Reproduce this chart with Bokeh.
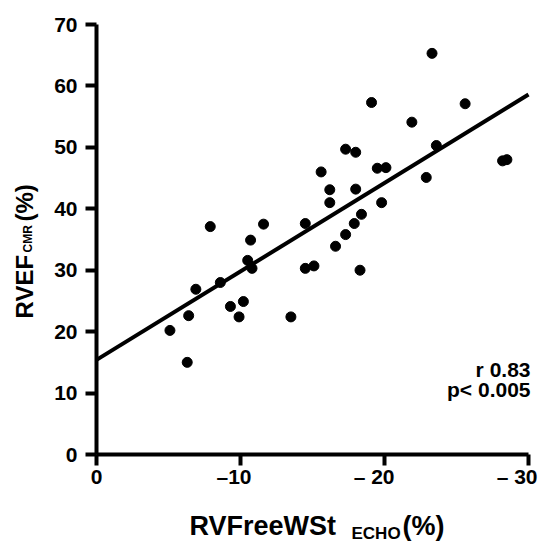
import math
from bokeh.plotting import figure
from bokeh.models import Range1d, FixedTicker, Label, ColumnDataSource, LinearAxis
from bokeh.core.properties import value
from bokeh.embed import file_html
from bokeh.resources import INLINE

# ---- data ----
strain = [-23.3, -19.1, -25.6, -21.9, -17.3, -18.0, -23.6, -28.2, -28.5, -15.6,
          -19.5, -20.1, -22.9, -16.2, -18.0, -16.2, -19.8, -18.4, -7.9, -11.6,
          -14.5, -17.9, -17.3, -16.6, -10.7, -10.5, -10.8, -14.5, -15.1, -18.3,
          -6.9, -8.6, -9.3, -10.2, -9.9, -13.5, -6.4, -5.1, -6.3]
rvef = [65.3, 57.3, 57.1, 54.1, 49.7, 49.2, 50.3, 47.8, 48.0, 46.0,
        46.6, 46.7, 45.1, 43.1, 43.2, 41.0, 41.0, 39.1, 37.1, 37.5,
        37.6, 37.6, 35.8, 33.9, 34.9, 31.6, 30.3, 30.3, 30.7, 30.0,
        26.9, 28.0, 24.1, 24.9, 22.4, 22.4, 22.6, 20.2, 15.0]
fit_intercept = 15.4
fit_slope = -1.44
x_ticks = [0, -10, -20, -30]
x_tick_labels = ["0", "\u201310", "\u2013 20", "\u2013 30"]
y_ticks = [0, 10, 20, 30, 40, 50, 60, 70]
x_limits = [0, -30]
y_limits = [0, 70]
stats = ["r 0.83", "p< 0.005"]

FONT = "Liberation Sans"

# layout (canvas pixels): plotting box inside a full-canvas frame
W, H = 541, 545
AX_L, AX_R = 96, 528      # x = 0 and x = -30
AX_T, AX_B = 24, 454      # y = 70 and y = 0

ux = (x_limits[1] - x_limits[0]) / (AX_R - AX_L)
uy = (y_limits[1] - y_limits[0]) / (AX_B - AX_T)
xr = Range1d(x_limits[0] - AX_L * ux, x_limits[1] + (W - AX_R) * ux)
yr = Range1d(y_limits[0] - (H - AX_B) * uy, y_limits[1] + AX_T * uy)

p = figure(width=W, height=H, min_border=0, x_range=xr, y_range=yr,
           x_axis_location=None, y_axis_location=None,
           output_backend="svg", toolbar_location=None)
p.outline_line_color = None
p.grid.visible = False
p.background_fill_color = "white"
p.border_fill_color = "white"

def dx(px):   # canvas pixel -> data x
    return xr.start + px * ux

def dy(py):   # canvas pixel -> data y
    return yr.end - py * uy

xa = LinearAxis(fixed_location=y_limits[0], bounds=(x_limits[1], x_limits[0]),
                ticker=FixedTicker(ticks=x_ticks))
ya = LinearAxis(fixed_location=x_limits[0], bounds=(y_limits[0], y_limits[1]),
                ticker=FixedTicker(ticks=y_ticks))
for ax in (xa, ya):
    ax.axis_line_width = 4
    ax.axis_line_color = "black"
    ax.major_tick_line_width = 4
    ax.major_tick_line_color = "black"
    ax.major_tick_in = 0
    ax.major_tick_out = 11
    ax.minor_tick_line_color = None
    ax.major_label_text_font = FONT
    ax.major_label_text_font_style = "bold"
    ax.major_label_text_font_size = "21px"
    ax.major_label_text_color = "black"
xa.major_label_text_alpha = 0
ya.major_label_standoff = 8
p.add_layout(xa, "below")
p.add_layout(ya, "left")

# x tick labels (digits centred on ticks, dash hanging left)
src = ColumnDataSource(dict(x=x_ticks, y=[y_limits[0]] * len(x_ticks), t=x_tick_labels,
                            dxo=[6, 11, 10, 9]))
p.text(x="x", y="y", text="t", source=src, x_offset="dxo", y_offset=22,
       text_align="right", text_baseline="alphabetic", text_font=value(FONT),
       text_font_style="bold", text_font_size="21px", text_color="black")

# regression line
p.line(x=x_limits, y=[fit_intercept + fit_slope * v for v in x_limits],
       line_width=4, line_color="black")

# points
p.scatter(x=strain, y=rvef, size=10, fill_color="black", line_color="black")

def label(px, py, text, size, angle=0.0, align="left"):
    p.add_layout(Label(x=dx(px), y=dy(py), text=text, angle=angle, text_align=align,
                       text_baseline="alphabetic", text_font=FONT, text_font_style="bold",
                       text_font_size=size, text_color="black"))

# stats
label(530, 369, stats[0], "21px", align="right")
label(530, 389, stats[1], "21px", align="right")

# x title
label(189, 525, "RVFreeWSt", "27px")
label(351, 533, "ECHO", "17px")
label(402, 525, "(%)", "27px")

# y title (rotated)
label(24, 318, "RVEF", "24px", angle=math.pi / 2)
label(27, 252, "CMR", "12px", angle=math.pi / 2)
label(24, 221, "(%)", "24px", angle=math.pi / 2)

open("out.html", "w").write(file_html(p, INLINE))
